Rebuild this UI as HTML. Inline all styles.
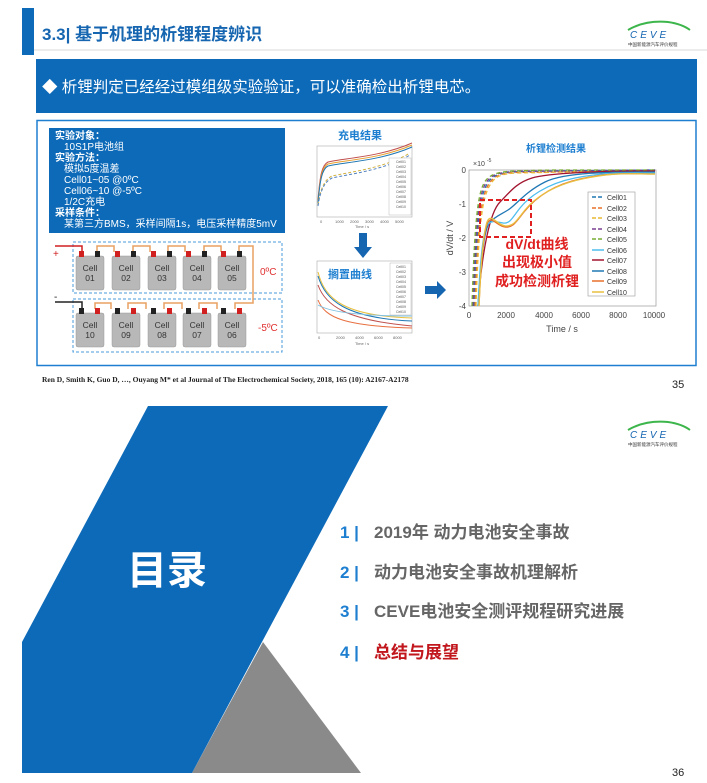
<!DOCTYPE html>
<html><head><meta charset="utf-8"><style>
html,body{margin:0;padding:0;background:#fff;overflow:hidden;}
svg{display:block;}
text{font-family:"Liberation Sans","Noto Sans CJK SC",sans-serif;}
</style></head><body>
<svg width="707" height="783" viewBox="0 0 707 783" xmlns="http://www.w3.org/2000/svg">
<rect width="707" height="783" fill="#fff"/>
<rect x="22" y="8" width="12" height="47" fill="#0d6ab8"/>
<line x1="34" y1="50" x2="707" y2="50" stroke="#d8d8d8" stroke-width="1"/>
<text x="42" y="40" font-size="17" font-weight="bold" fill="#1565b0">3.3| 基于机理的析锂程度辨识</text>
<g>
<path d="M628 30 Q645 20 668 22 Q682 24 690 30" fill="none" stroke="#3cb54a" stroke-width="2"/>
<text x="630" y="38" font-size="10" font-style="italic" fill="#1565b0" letter-spacing="3">CEVE</text>
<text x="628" y="46" font-size="4.5" fill="#333">中国新能源汽车评价规程</text>
</g>
<rect x="36" y="59" width="661" height="54" fill="#0d6ab8"/>
<text x="42" y="92" font-size="15.5" fill="#fff">◆ 析锂判定已经经过模组级实验验证，可以准确检出析锂电芯。</text>
<rect x="37" y="120.5" width="659" height="245" fill="#fff" stroke="#1e7fd0" stroke-width="1.5"/>
<rect x="49" y="128" width="236" height="105" fill="#0d6ab8"/>
<g font-size="10" fill="#fff">
<text x="55" y="139" font-weight="bold">实验对象：</text>
<text x="64" y="150">10S1P电池组</text>
<text x="55" y="161" font-weight="bold">实验方法：</text>
<text x="64" y="172">模拟5度温差</text>
<text x="64" y="183">Cell01~05 @0ºC</text>
<text x="64" y="194">Cell06~10 @-5ºC</text>
<text x="64" y="205">1/2C充电</text>
<text x="55" y="216" font-weight="bold">采样条件：</text>
<text x="64" y="227">某第三方BMS，采样间隔1s，电压采样精度5mV</text>
</g>
<rect x="73" y="242" width="209" height="51" fill="none" stroke="#4a9ad8" stroke-width="1" stroke-dasharray="3,2"/>
<rect x="73" y="299" width="209" height="53" fill="none" stroke="#4a9ad8" stroke-width="1" stroke-dasharray="3,2"/>
<path d="M55 246 H82 V252" fill="none" stroke="#d02020" stroke-width="1.5"/>
<path d="M55 302 H82 V309" fill="none" stroke="#222" stroke-width="1.5"/>
<text x="53" y="257" font-size="10" fill="#d02020">+</text>
<text x="54" y="300" font-size="10" fill="#222">-</text>
<path d="M97 252 V246 H114 V252 M133 252 V246 H150 V252 M168 252 V246 H185 V252 M204 252 V246 H221 V252 M239 252 V246 H253 V303 H235 V309 M217 309 V303 H199 V309 M182 309 V303 H164 V309 M146 309 V303 H128 V309 M111 309 V303 H95 V309" fill="none" stroke="#e8a060" stroke-width="1.5"/>
<g fill="#b8b8b8" stroke="#999" stroke-width="0.5">
<rect x="76" y="256" width="28" height="34" rx="2"/><rect x="112" y="256" width="28" height="34" rx="2"/><rect x="148" y="256" width="28" height="34" rx="2"/><rect x="183" y="256" width="28" height="34" rx="2"/><rect x="218" y="256" width="28" height="34" rx="2"/>
<rect x="76" y="313" width="28" height="34" rx="2"/><rect x="112" y="313" width="28" height="34" rx="2"/><rect x="148" y="313" width="28" height="34" rx="2"/><rect x="183" y="313" width="28" height="34" rx="2"/><rect x="218" y="313" width="28" height="34" rx="2"/>
</g>
<g>
<rect x="79" y="251" width="5" height="6" fill="#d02020"/><rect x="95" y="251" width="5" height="6" fill="#222"/>
<rect x="115" y="251" width="5" height="6" fill="#d02020"/><rect x="131" y="251" width="5" height="6" fill="#222"/>
<rect x="151" y="251" width="5" height="6" fill="#d02020"/><rect x="167" y="251" width="5" height="6" fill="#222"/>
<rect x="186" y="251" width="5" height="6" fill="#d02020"/><rect x="202" y="251" width="5" height="6" fill="#222"/>
<rect x="221" y="251" width="5" height="6" fill="#d02020"/><rect x="237" y="251" width="5" height="6" fill="#222"/>
<rect x="79" y="308" width="5" height="6" fill="#222"/><rect x="95" y="308" width="5" height="6" fill="#d02020"/>
<rect x="115" y="308" width="5" height="6" fill="#222"/><rect x="131" y="308" width="5" height="6" fill="#d02020"/>
<rect x="151" y="308" width="5" height="6" fill="#222"/><rect x="167" y="308" width="5" height="6" fill="#d02020"/>
<rect x="186" y="308" width="5" height="6" fill="#222"/><rect x="202" y="308" width="5" height="6" fill="#d02020"/>
<rect x="221" y="308" width="5" height="6" fill="#222"/><rect x="237" y="308" width="5" height="6" fill="#d02020"/>
</g>
<g font-size="8.5" fill="#333" text-anchor="middle">
<text x="90" y="271">Cell</text><text x="90" y="281">01</text>
<text x="126" y="271">Cell</text><text x="126" y="281">02</text>
<text x="162" y="271">Cell</text><text x="162" y="281">03</text>
<text x="197" y="271">Cell</text><text x="197" y="281">04</text>
<text x="232" y="271">Cell</text><text x="232" y="281">05</text>
<text x="90" y="328">Cell</text><text x="90" y="338">10</text>
<text x="126" y="328">Cell</text><text x="126" y="338">09</text>
<text x="162" y="328">Cell</text><text x="162" y="338">08</text>
<text x="197" y="328">Cell</text><text x="197" y="338">07</text>
<text x="232" y="328">Cell</text><text x="232" y="338">06</text>
</g>
<text x="260" y="275" font-size="10" fill="#e03030">0ºC</text>
<text x="258" y="331" font-size="10" fill="#e03030">-5ºC</text>
<text x="360" y="139" font-size="11" font-weight="bold" fill="#1e7fd0" text-anchor="middle">充电结果</text>
<rect x="317" y="146" width="95" height="71" fill="none" stroke="#aaa" stroke-width="0.6"/>
<g fill="none" stroke-width="1">
<path d="M318 200 C320 175,322 165,328 162 C345 158,380 157,412 143" stroke="#c0504d"/>
<path d="M318 202 C320 178,322 167,328 164 C345 160,380 159,412 145" stroke="#e8a030"/>
<path d="M318 203 C320 180,322 169,328 166 C345 162,380 161,412 147" stroke="#1f77b4"/>
<path d="M318 205 C320 190,324 180,332 176 C350 172,385 168,410 153" stroke="#d0b040" stroke-dasharray="3,2"/>
<path d="M318 206 C320 192,324 182,332 178 C350 174,385 170,410 155" stroke="#5080c0" stroke-dasharray="3,2"/>
</g>
<rect x="389" y="158" width="22" height="57" fill="#fff" stroke="#aaa" stroke-width="0.4"/>
<g font-size="3.5" fill="#555"><text x="396" y="163">Cell01</text><text x="396" y="168">Cell02</text><text x="396" y="173">Cell03</text><text x="396" y="178">Cell04</text><text x="396" y="183">Cell05</text><text x="396" y="188">Cell06</text><text x="396" y="193">Cell07</text><text x="396" y="198">Cell08</text><text x="396" y="203">Cell09</text><text x="396" y="208">Cell10</text></g>
<g font-size="4" fill="#666"><text x="320" y="223">0</text><text x="335" y="223">1000</text><text x="350" y="223">2000</text><text x="365" y="223">3000</text><text x="380" y="223">4000</text><text x="395" y="223">5000</text><text x="355" y="228">Time / s</text></g>
<path d="M359 233 H367 V247 H372 L363 258 L354 247 H359 Z" fill="#1565b0"/>
<rect x="317" y="261" width="95" height="72" fill="none" stroke="#aaa" stroke-width="0.6"/>
<g fill="none" stroke-width="1">
<path d="M318 272 C325 300,345 316,412 318" stroke="#e8c040"/>
<path d="M318 276 C325 300,345 318,412 321" stroke="#1f77b4"/>
<path d="M318 285 C325 305,345 320,412 326" stroke="#c0504d"/>
<path d="M318 300 C325 318,345 326,412 328" stroke="#e87040"/>
<path d="M318 305 C330 312,360 316,412 316" stroke="#80c0e0"/>
</g>
<text x="350" y="278" font-size="11" font-weight="bold" fill="#1e7fd0" text-anchor="middle">搁置曲线</text>
<rect x="390" y="263" width="21" height="52" fill="#fff" stroke="#aaa" stroke-width="0.4"/>
<g font-size="3.5" fill="#555"><text x="396" y="268">Cell01</text><text x="396" y="273">Cell02</text><text x="396" y="278">Cell03</text><text x="396" y="283">Cell04</text><text x="396" y="288">Cell05</text><text x="396" y="293">Cell06</text><text x="396" y="298">Cell07</text><text x="396" y="303">Cell08</text><text x="396" y="308">Cell09</text><text x="396" y="313">Cell10</text></g>
<g font-size="4" fill="#666"><text x="318" y="339">0</text><text x="336" y="339">2000</text><text x="355" y="339">4000</text><text x="374" y="339">6000</text><text x="393" y="339">8000</text><text x="355" y="345">Time / s</text></g>
<path d="M425 286 H437 V281 L446 290 L437 299 V294 H425 Z" fill="#1565b0"/>
<text x="556" y="152" font-size="10" font-weight="bold" fill="#1e7fd0" text-anchor="middle">析锂检测结果</text>
<rect x="469" y="170" width="187" height="136" fill="none" stroke="#999" stroke-width="0.7"/>
<g font-size="8" fill="#444" text-anchor="end">
<text x="466" y="173">0</text><text x="466" y="207">-1</text><text x="466" y="241">-2</text><text x="466" y="275">-3</text><text x="466" y="309">-4</text>
</g>
<text x="473" y="166" font-size="7" fill="#444">×10</text><text x="487" y="162" font-size="5" fill="#444">-5</text>
<g font-size="8" fill="#444" text-anchor="middle">
<text x="469" y="318">0</text><text x="506" y="318">2000</text><text x="544" y="318">4000</text><text x="581" y="318">6000</text><text x="618" y="318">8000</text><text x="654" y="318">10000</text>
<text x="562" y="332" font-size="9">Time / s</text>
</g>
<text x="453" y="238" font-size="9" fill="#444" transform="rotate(-90 453 238)" text-anchor="middle">dV/dt / V</text>
<g fill="none" stroke-width="1.3">
<path d="M474 306 C477 210,481 190,490 180 S515 172,555 171 L655 170" stroke="#1f77b4" stroke-dasharray="4,3"/>
<path d="M475 306 C478 212,482 192,491 181 S516 173,556 172 L655 171" stroke="#e8702a" stroke-dasharray="4,3"/>
<path d="M476 306 C479 214,483 194,492 182 S517 174,557 172 L655 171" stroke="#e8b830" stroke-dasharray="4,3"/>
<path d="M473 306 C476 208,480 188,489 179 S514 171,554 171 L655 170" stroke="#7a3e90" stroke-dasharray="4,3"/>
<path d="M472 306 C475 206,479 186,488 178 S513 171,553 170 L655 170" stroke="#77ac30" stroke-dasharray="4,3"/>
<path d="M478 306 C482 250,490 212,500 202 S516 183,532 178 S600 171,655 171" stroke="#a2142f"/>
<path d="M478 306 C481 260,484 228,490 222 S500 215,508 210 S525 192,545 182 S610 172,655 172" stroke="#1f77b4"/>
<path d="M478 306 C480 262,483 228,488 224 S496 222,503 223 S512 218,520 208 S545 184,575 178 S625 173,655 173" stroke="#4dbeee"/>
<path d="M479 306 C481 262,484 228,488 222 S497 226,505 227 S516 222,524 212 S548 186,580 179 S628 174,655 174" stroke="#e8702a"/>
<path d="M479 306 C481 262,484 226,488 220 S498 226,506 226 S517 220,525 210 S550 186,582 179 S630 174,655 174" stroke="#e8c040"/>
</g>
<rect x="480" y="200" width="51" height="37" fill="none" stroke="#e02020" stroke-width="2" stroke-dasharray="5,3"/>
<rect x="588" y="192" width="47" height="104" fill="#fff" stroke="#999" stroke-width="0.6"/>
<g stroke-width="1.5">
<line x1="592" y1="197" x2="604" y2="197" stroke="#1f77b4" stroke-dasharray="4,2"/>
<line x1="592" y1="208" x2="604" y2="208" stroke="#e8702a" stroke-dasharray="4,2"/>
<line x1="592" y1="218" x2="604" y2="218" stroke="#e8b830" stroke-dasharray="4,2"/>
<line x1="592" y1="229" x2="604" y2="229" stroke="#7a3e90" stroke-dasharray="4,2"/>
<line x1="592" y1="239" x2="604" y2="239" stroke="#77ac30" stroke-dasharray="4,2"/>
<line x1="592" y1="250" x2="604" y2="250" stroke="#4dbeee"/>
<line x1="592" y1="260" x2="604" y2="260" stroke="#a2142f"/>
<line x1="592" y1="271" x2="604" y2="271" stroke="#1f77b4"/>
<line x1="592" y1="281" x2="604" y2="281" stroke="#e8702a"/>
<line x1="592" y1="292" x2="604" y2="292" stroke="#e8c040"/>
</g>
<g font-size="7" fill="#333">
<text x="607" y="200">Cell01</text><text x="607" y="211">Cell02</text><text x="607" y="221">Cell03</text><text x="607" y="232">Cell04</text><text x="607" y="242">Cell05</text><text x="607" y="253">Cell06</text><text x="607" y="263">Cell07</text><text x="607" y="274">Cell08</text><text x="607" y="284">Cell09</text><text x="607" y="295">Cell10</text>
</g>
<g font-size="14" font-weight="bold" fill="#e02020" text-anchor="middle">
<text x="537" y="249">dV/dt曲线</text>
<text x="537" y="267">出现极小值</text>
<text x="537" y="286">成功检测析锂</text>
</g>
<text x="42" y="382" font-size="7.5" font-weight="bold" fill="#222" style="font-family:'Liberation Serif',serif">Ren D, Smith K, Guo D, …, Ouyang M* et al Journal of The Electrochemical Society, 2018, 165 (10): A2167-A2178</text>
<text x="672" y="388" font-size="11" fill="#222">35</text>
<!-- slide 36 -->
<polygon points="263,642 361,773 192,773" fill="#8a8a8a"/>
<polygon points="148,406 388,406 192,773 22,773 22,642" fill="#0d6ab8"/>
<text x="127" y="584" font-size="40" font-weight="bold" fill="#fff">目录</text>
<g transform="translate(0,400)">
<path d="M628 30 Q645 20 668 22 Q682 24 690 30" fill="none" stroke="#3cb54a" stroke-width="2"/>
<text x="630" y="38" font-size="10" font-style="italic" fill="#1565b0" letter-spacing="3">CEVE</text>
<text x="628" y="46" font-size="4.5" fill="#333">中国新能源汽车评价规程</text>
</g>
<g font-size="17" font-weight="bold">
<text x="340" y="538" fill="#1e7fd0">1 |</text><text x="374" y="538" fill="#666">2019年  动力电池安全事故</text>
<text x="340" y="578" fill="#1e7fd0">2 |</text><text x="374" y="578" fill="#666">动力电池安全事故机理解析</text>
<text x="340" y="617" fill="#1e7fd0">3 |</text><text x="374" y="617" fill="#666">CEVE电池安全测评规程研究进展</text>
<text x="340" y="658" fill="#1e7fd0">4 |</text><text x="374" y="658" fill="#c0161c">总结与展望</text>
</g>
<text x="672" y="776" font-size="11" fill="#222">36</text>
</svg>
</body></html>
